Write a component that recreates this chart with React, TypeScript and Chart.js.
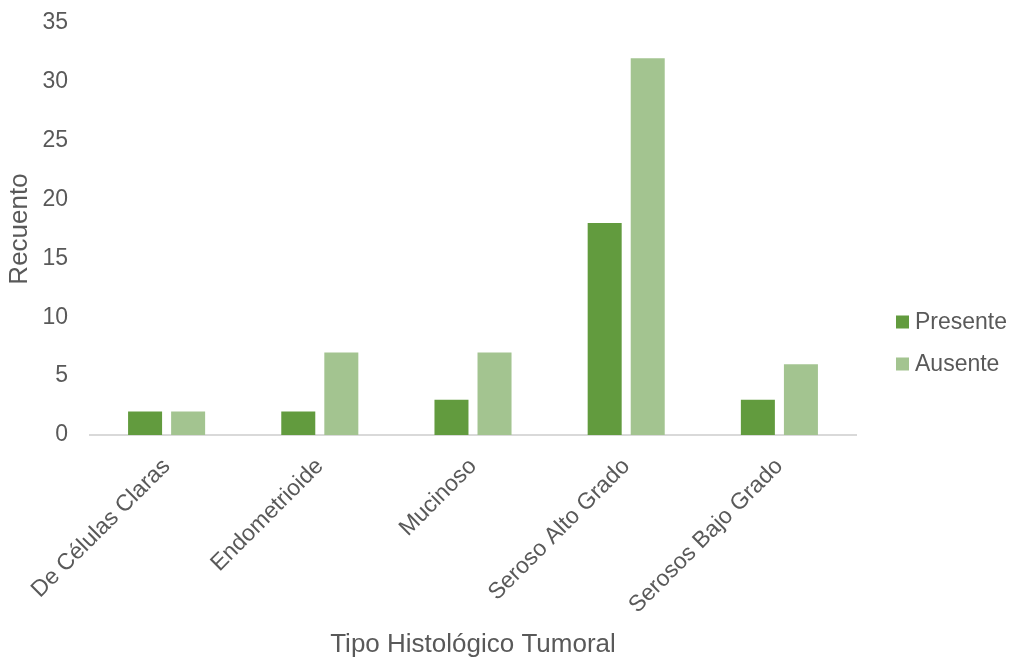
import React, { useEffect, useRef } from "react";
import { Chart, registerables } from "chart.js";

Chart.register(...registerables);

const categories = [
  "De Células Claras",
  "Endometrioide",
  "Mucinoso",
  "Seroso Alto Grado",
  "Serosos Bajo Grado",
];
const presente = [2, 2, 3, 18, 3];
const ausente = [2, 7, 7, 32, 6];
const seriesNames = ["Presente", "Ausente"];
const seriesColors = ["#629b3e", "#a3c490"];

const FONT = "'Liberation Sans', Arial, sans-serif";
const TEXT = "#595959";

// Legend drawn at the right side, next to the plot area
const sideLegend = {
  id: "sideLegend",
  afterDraw(chart: any) {
    const ctx = chart.ctx;
    ctx.save();
    ctx.font = `23px ${FONT}`;
    ctx.textBaseline = "middle";
    ctx.textAlign = "left";
    chart.data.datasets.forEach((ds: any, i: number) => {
      const cy = 322 + i * 42;
      ctx.fillStyle = ds.backgroundColor;
      ctx.fillRect(896, cy - 6.5, 13, 13);
      ctx.fillStyle = TEXT;
      ctx.fillText(ds.label, 915, cy + 1);
    });
    ctx.restore();
  },
};

export default function App() {
  const ref = useRef<HTMLCanvasElement>(null);

  useEffect(() => {
    if (!ref.current) return;
    const chart = new Chart(ref.current, {
      type: "bar",
      data: {
        labels: categories,
        datasets: [
          { label: seriesNames[0], data: presente, backgroundColor: seriesColors[0] },
          { label: seriesNames[1], data: ausente, backgroundColor: seriesColors[1] },
        ],
      },
      plugins: [sideLegend],
      options: {
        animation: false,
        responsive: false,
        maintainAspectRatio: false,
        layout: { padding: { top: 23, right: 160, left: 0, bottom: 0 } },
        datasets: {
          bar: { categoryPercentage: 0.562, barPercentage: 0.79 },
        },
        plugins: {
          legend: { display: false },
          tooltip: { enabled: false },
        },
        scales: {
          x: {
            grid: { display: false },
            border: { display: true, color: "#d9d9d9", width: 2 },
            ticks: {
              color: TEXT,
              font: { family: FONT, size: 23 },
              minRotation: 45,
              maxRotation: 45,
              padding: 10,
            },
            title: {
              display: true,
              text: "Tipo Histológico Tumoral",
              color: TEXT,
              font: { family: FONT, size: 26 },
              padding: { top: 4, bottom: 0 },
            },
            afterFit(scale: any) {
              scale.height = 225;
              scale.paddingTop = 0;
            },
          },
          y: {
            min: 0,
            max: 35,
            grid: { display: false, drawTicks: false },
            border: { display: false },
            ticks: {
              stepSize: 5,
              color: TEXT,
              font: { family: FONT, size: 23 },
              padding: 22,
            },
            title: {
              display: true,
              text: "Recuento",
              color: TEXT,
              font: { family: FONT, size: 26 },
              padding: { top: 4, bottom: 0 },
            },
            afterFit(scale: any) {
              scale.width = 90;
              scale.paddingTop = 0;
            },
          },
        },
      } as any,
    });
    return () => chart.destroy();
  }, []);

  return (
    <div style={{ position: "fixed", left: 0, top: 0, width: 1016, height: 660, background: "#fff" }}>
      <canvas ref={ref} width={1016} height={660} />
    </div>
  );
}
